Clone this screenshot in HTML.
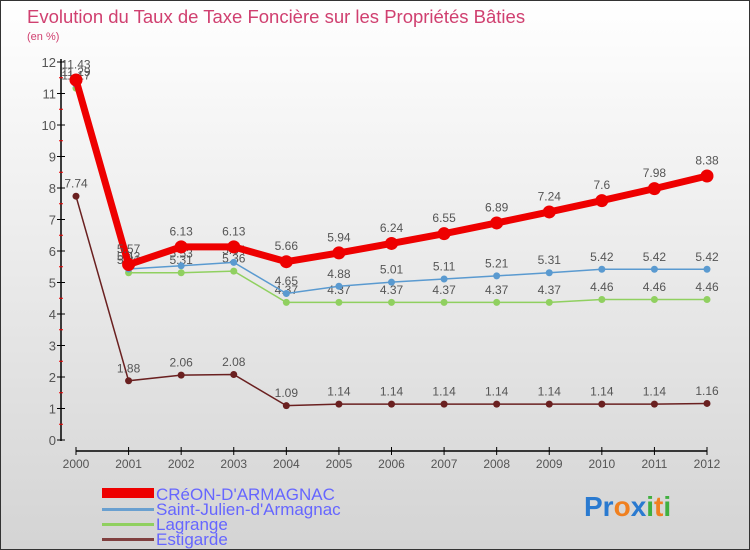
<!DOCTYPE html>
<html><head><meta charset="utf-8"><style>
body{margin:0}
#c{width:750px;height:550px;position:relative;font-family:"Liberation Sans",sans-serif;background:linear-gradient(#ffffff,#d4d4d4);box-sizing:border-box;border:1px solid #333;overflow:hidden}
svg{position:absolute;left:0;top:0}
</style></head><body>
<div id="c">
<svg id="s" width="750" height="550">
<text x="26" y="22" font-size="18.5" fill="#d04070">Evolution du Taux de Taxe Foncière sur les Propriétés Bâties</text>
<text x="26" y="39" font-size="11" fill="#d04070">(en %)</text>
<g id="g"></g>
<g>
<rect x="101" y="487" width="52" height="10" fill="#ee0000"/>
<text x="155" y="499" font-size="17" fill="#6666ff">CRéON-D'ARMAGNAC</text>
<rect x="101" y="507" width="52" height="3" fill="#6aa0d0"/>
<text x="155" y="514" font-size="17" fill="#6666ff">Saint-Julien-d'Armagnac</text>
<rect x="101" y="522" width="52" height="3" fill="#90d060"/>
<text x="155" y="529" font-size="17" fill="#6666ff">Lagrange</text>
<rect x="101" y="537" width="52" height="3" fill="#804040"/>
<text x="155" y="544" font-size="17" fill="#6666ff">Estigarde</text>
</g>
<text x="583" y="515" font-size="28" font-weight="bold"><tspan fill="#2a7ad0">Pr</tspan><tspan fill="#f08020">o</tspan><tspan fill="#2a7ad0">x</tspan><tspan fill="#40b040">i</tspan><tspan fill="#f08020">t</tspan><tspan fill="#40b040">i</tspan></text>
</svg></div>
<script>
const years=[2000,2001,2002,2003,2004,2005,2006,2007,2008,2009,2010,2011,2012];
const creon=[11.43,5.57,6.13,6.13,5.66,5.94,6.24,6.55,6.89,7.24,7.6,7.98,8.38];
const stjulien=[11.29,5.43,5.53,5.64,4.65,4.88,5.01,5.11,5.21,5.31,5.42,5.42,5.42];
const lagrange=[11.17,5.31,5.31,5.36,4.37,4.37,4.37,4.37,4.37,4.37,4.46,4.46,4.46];
const estigarde=[7.74,1.88,2.06,2.08,1.09,1.14,1.14,1.14,1.14,1.14,1.14,1.14,1.16];
const yTicks=[0,1,2,3,4,5,6,7,8,9,10,11,12];
const NS="http://www.w3.org/2000/svg",g=document.getElementById('g');
const x=i=>75+i*(631/(years.length-1));
const y=v=>439-v*31.5;
function mk(t,a,name){const e=document.createElementNS(NS,t);for(const k in a)e.setAttribute(k,a[k]);


g.appendChild(e);return e;}
mk('line',{x1:60,y1:58,x2:60,y2:440,stroke:'#000','stroke-width':1.5},'y-axis');
yTicks.forEach(v=>{mk('line',{x1:56,x2:64,y1:y(v),y2:y(v),stroke:'#000'},'y-tick');
if(v<12)mk('line',{x1:58,x2:62,y1:y(v+0.5),y2:y(v+0.5),stroke:'#e00'},'y-minor-tick');
const t=mk('text',{x:55,y:y(v)+5,'font-size':13,fill:'#555','text-anchor':'end'},'y-tick-label');t.textContent=v;});
mk('line',{x1:75,y1:450,x2:706,y2:450,stroke:'#000','stroke-width':1.5},'x-axis');
years.forEach((yr,i)=>{mk('line',{x1:x(i),x2:x(i),y1:446,y2:454,stroke:'#000'},'x-tick');
const t=mk('text',{x:x(i),y:467,'font-size':12,fill:'#555','text-anchor':'middle'},'x-tick-label');t.textContent=yr;});
function series(d,col,w,r,name,lab){
mk('polyline',{points:d.map((v,i)=>x(i)+','+y(v)).join(' '),fill:'none',stroke:col,'stroke-width':w},name+'-line');
d.forEach((v,i)=>{mk('circle',{cx:x(i),cy:y(v),r:r,fill:col},name+'-point');
if(lab){const t=mk('text',{x:x(i),y:y(v)-r-5,'font-size':12,fill:'#555','text-anchor':'middle'},name+'-value-label');t.textContent=v;}});}
series(estigarde,'#6a2020',1.5,3.5,'estigarde',true);
series(lagrange,'#90d060',1.5,3.5,'lagrange',true);
series(stjulien,'#5a9ad0',1.5,3.5,'saint-julien',true);
series(creon,'#ee0000',7,6.5,'creon',true);
</script>
</body></html>
